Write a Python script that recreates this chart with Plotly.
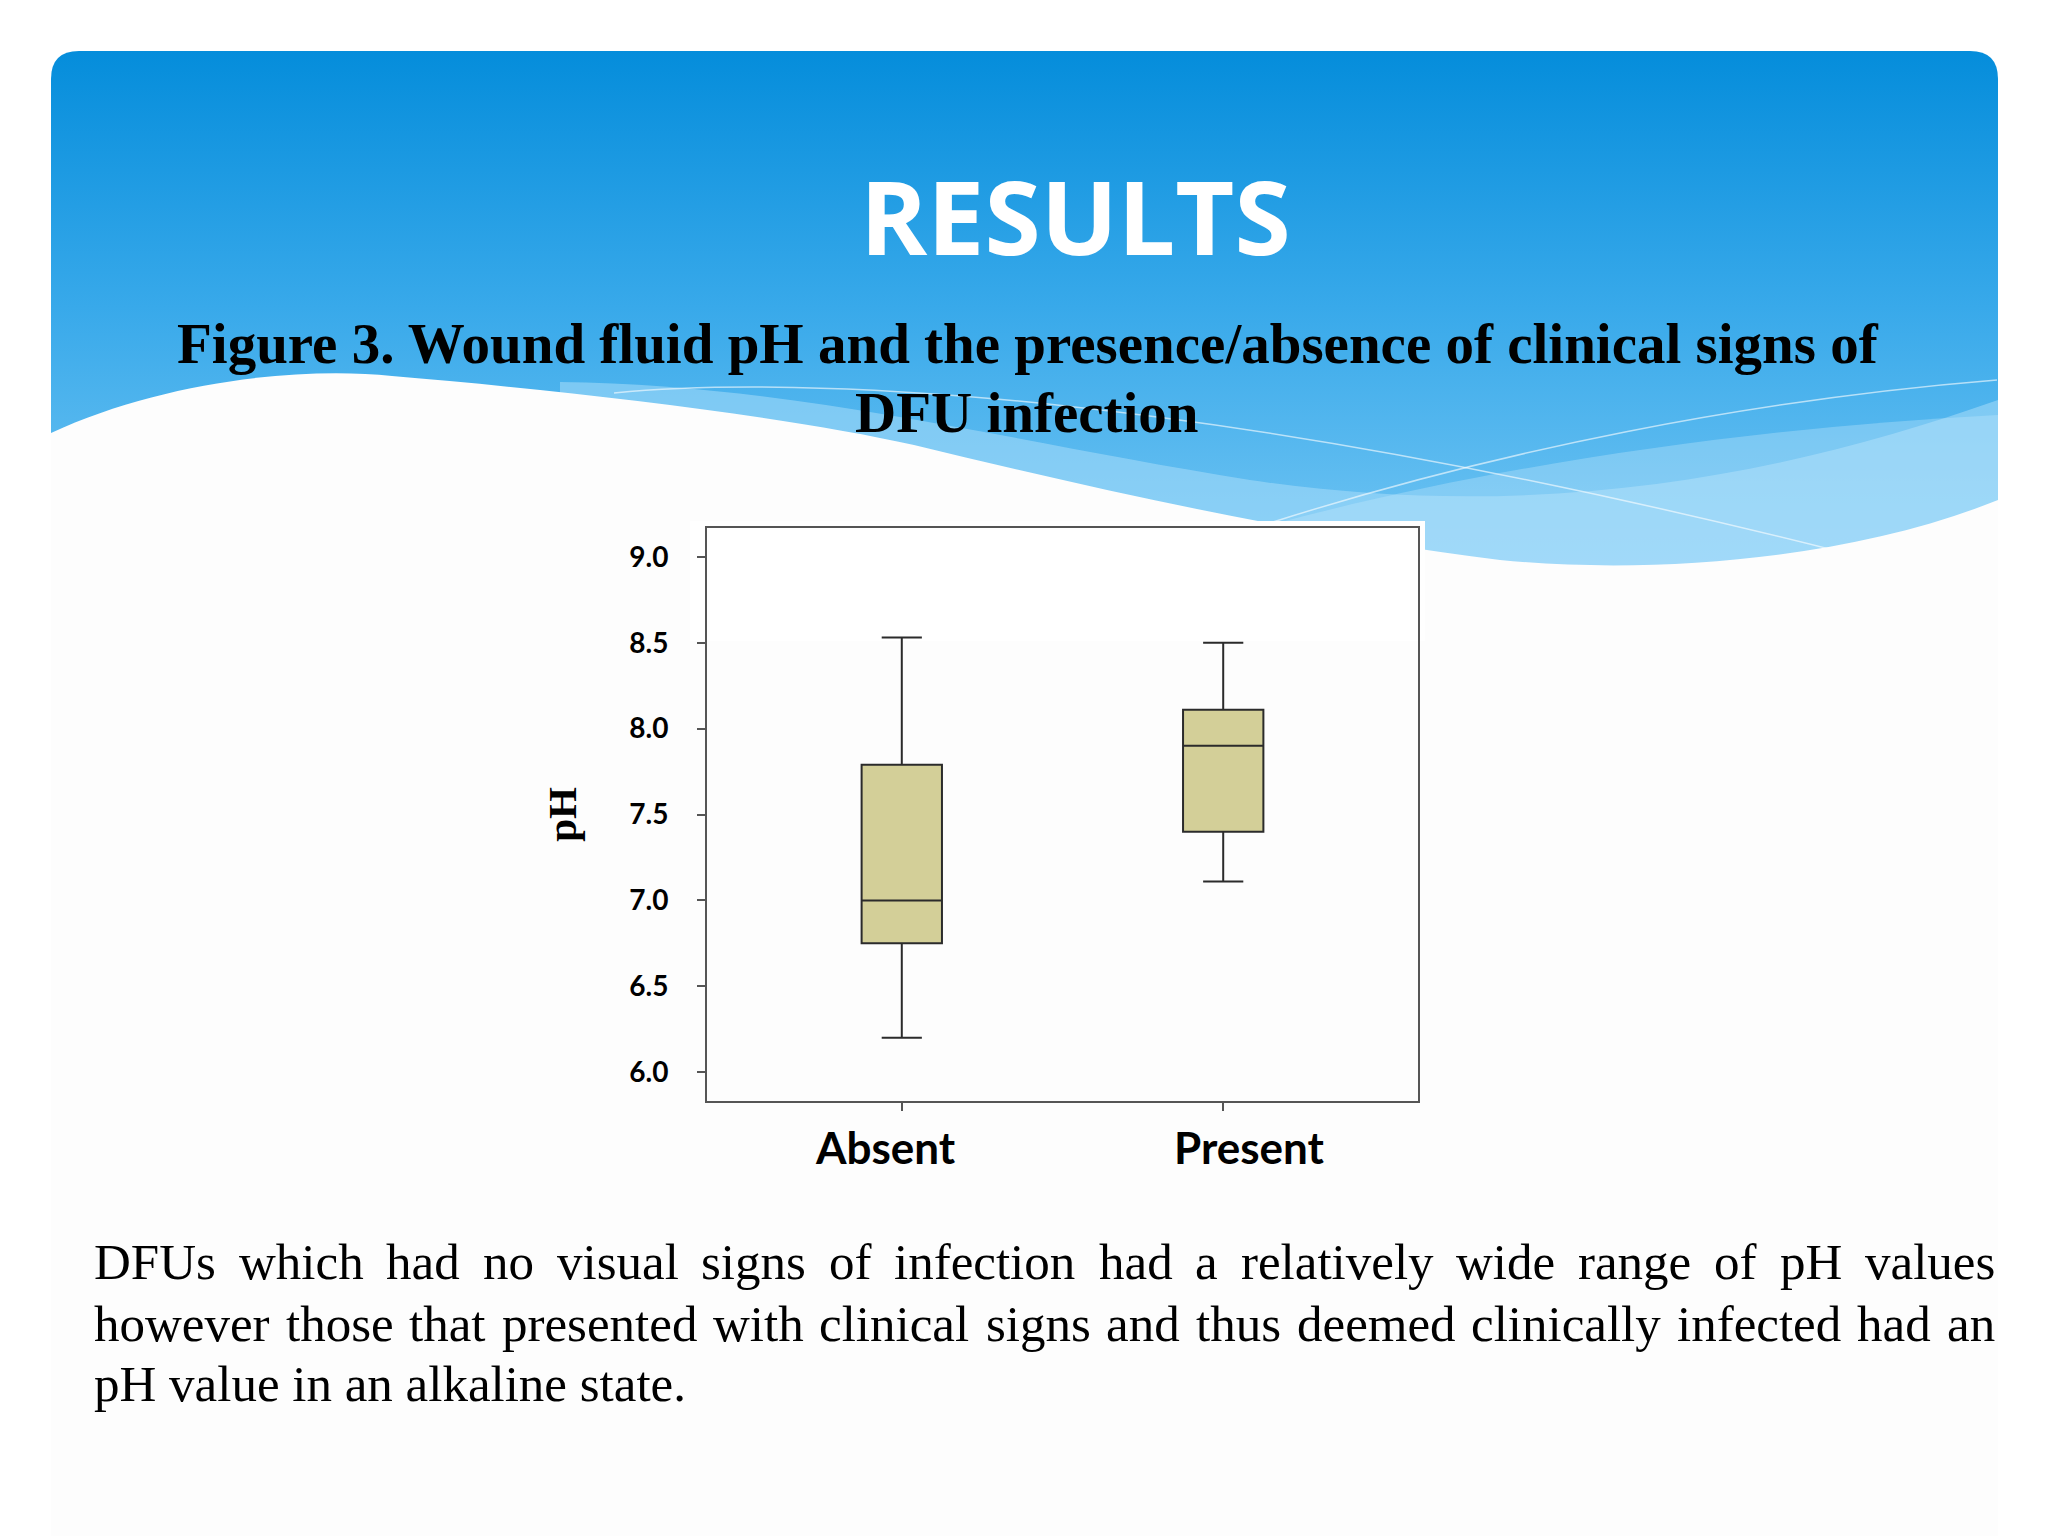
import base64
import plotly.graph_objects as go

# ---------------- data ----------------
categories = ["Absent", "Present"]
q1_vals = [6.75, 7.40]
median_vals = [7.00, 7.90]
q3_vals = [7.79, 8.11]
lower_whisker = [6.20, 7.11]
upper_whisker = [8.53, 8.50]
y_ticks = [6.0, 6.5, 7.0, 7.5, 8.0, 8.5, 9.0]

title_text = "RESULTS"
caption_lines = ["Figure 3. Wound fluid pH and the presence/absence of clinical signs of",
                 "DFU infection"]
body_lines = ["DFUs which had no visual signs of infection had a relatively wide range of pH values",
              "however those that presented with clinical signs and thus deemed clinically infected had an",
              "pH value in an alkaline state."]

# ---------------- geometry (page pixel coords) ----------------
W, H = 2048, 1536
OFF = 8  # page body margin
PL, PR, PT, PB = 707, 1418, 528, 1101
pw, ph = PR - PL, PB - PT


def px(x):
    return (x - PL) / pw


def py(y):
    return (PB - y) / ph


# ---------------- slide background (svg) ----------------
svg = f'''<svg xmlns="http://www.w3.org/2000/svg" width="{W}" height="{H}" viewBox="0 0 {W} {H}">
<defs><linearGradient id="g" x1="0" y1="0" x2="0" y2="1">
<stop offset="0" stop-color="#058ddb"/><stop offset="0.45" stop-color="#38a9ea"/><stop offset="1" stop-color="#7ecbf5"/>
</linearGradient></defs>
<rect width="{W}" height="{H}" fill="#ffffff"/>
<path d="M51,620 L51,79 Q51,51 79,51 L1970,51 Q1998,51 1998,79 L1998,620 Z" fill="url(#g)"/>
<path d="M560,382 C800,385 1000,440 1250,480 C1550,525 1800,470 1998,400 L1998,700 L560,700 Z" fill="#a8dcf9" opacity="0.55"/>
<path d="M1150,560 C1400,480 1700,430 1998,415 L1998,700 L1150,700 Z" fill="#c4e7fb" opacity="0.35"/>
<path d="M614,393 C800,375 1200,390 1841,552" fill="none" stroke="#ffffff" stroke-opacity="0.6" stroke-width="1.5"/>
<path d="M1273,522 C1500,450 1750,400 1997,380" fill="none" stroke="#ffffff" stroke-opacity="0.6" stroke-width="1.5"/>
<path d="M51,433 C160,382 300,366 392,376 C560,390 780,415 914,445 C1100,490 1300,535 1500,560 C1650,575 1850,560 1998,500 L1998,1536 L51,1536 Z" fill="#fdfdfd"/>
<rect x="690" y="521" width="735" height="120" fill="#ffffff"/>
</svg>'''
svg_uri = "data:image/svg+xml;base64," + base64.b64encode(svg.encode()).decode()

# ---------------- figure ----------------
fig = go.Figure()
fig.add_trace(go.Box(
    x=categories,
    q1=q1_vals, median=median_vals, q3=q3_vals,
    lowerfence=lower_whisker, upperfence=upper_whisker,
    width=0.25, whiskerwidth=0.5,
    fillcolor="#d3cf98",
    line=dict(color="#2b2b2b", width=2),
    boxpoints=False, hoverinfo="skip", showlegend=False,
))

fig.update_layout(
    width=W, height=H,
    margin=dict(l=PL - OFF, r=W - PR + OFF, t=PT - OFF, b=H - PB + OFF, pad=0),
    paper_bgcolor="#ffffff",
    plot_bgcolor="#efeef2",
    images=[dict(source=svg_uri, xref="paper", yref="paper",
                 x=px(0), y=py(0), sizex=W / pw, sizey=H / ph,
                 xanchor="left", yanchor="top", sizing="stretch", layer="below")],
    xaxis=dict(type="category", range=[-0.606, 1.606],
               showline=True, mirror=True, linecolor="#555555", linewidth=2,
               ticks="outside", ticklen=8, tickcolor="#555555", tickwidth=2,
               showgrid=False, zeroline=False, showticklabels=False),
    yaxis=dict(range=[5.832, 9.168], tickvals=y_ticks, tickformat=".1f",
               showline=True, mirror=True, linecolor="#555555", linewidth=2,
               ticks="outside", ticklen=8, tickcolor="#555555", tickwidth=2,
               showgrid=False, zeroline=False,
               tickfont=dict(family="Lato", size=28, color="#000000", weight="bold"),
               ticklabelstandoff=23,
               title=dict(text="pH", standoff=40,
                          font=dict(family="Liberation Serif", size=41, color="#000000", weight="bold"))),
)

ann = []
# category labels under the axis (slightly offset as in the reference)
label_shift = [-16, 26]
for c, s in zip(categories, label_shift):
    ann.append(dict(text=c, x=c, xref="x", y=py(1147), yref="paper", xshift=s,
                    xanchor="center", yanchor="middle", showarrow=False,
                    font=dict(family="Lato", size=44, color="#000000", weight="bold")))

ann.append(dict(text=title_text, x=px(1075), y=py(215), xref="paper", yref="paper",
                xanchor="center", yanchor="middle", showarrow=False,
                font=dict(family="Open Sans", size=102, color="#ffffff", weight="bold")))
ann.append(dict(text=caption_lines[0], x=px(1028), y=py(343), xref="paper", yref="paper",
                xanchor="center", yanchor="middle", showarrow=False,
                font=dict(family="Liberation Serif", size=57, color="#000000", weight="bold")))
ann.append(dict(text=caption_lines[1], x=px(1027), y=py(413), xref="paper", yref="paper",
                xanchor="center", yanchor="middle", showarrow=False,
                font=dict(family="Liberation Serif", size=57, color="#000000", weight="bold")))

# justified body text (Times metrics, per 1000 em)
cw = dict(a=444, b=500, c=444, d=500, e=444, f=333, g=500, h=500, i=278, j=278, k=500,
          l=278, m=778, n=500, o=500, p=500, q=500, r=333, s=389, t=278, u=500, v=500,
          w=722, x=500, y=500, z=444, D=722, F=556, U=722, H=722)
cw["."] = 250
FS = 51
LEFT, RIGHT = 93, 1994
line_y = [1262, 1324, 1384]


def wwidth(w):
    return sum(cw.get(ch, 500) for ch in w) * FS / 1000.0


for li, line in enumerate(body_lines):
    if li < 2:
        words = line.split(" ")
        widths = [wwidth(w) for w in words]
        gap = (RIGHT - LEFT - sum(widths)) / (len(words) - 1)
        xc = LEFT
        for w, wd in zip(words, widths):
            ann.append(dict(text=w, x=px(xc), y=py(line_y[li]), xref="paper", yref="paper",
                            xanchor="left", yanchor="middle", showarrow=False, borderpad=0,
                            font=dict(family="Liberation Serif", size=FS, color="#000000")))
            xc += wd + gap
    else:
        ann.append(dict(text=line, x=px(LEFT), y=py(line_y[li]), xref="paper", yref="paper",
                        xanchor="left", yanchor="middle", showarrow=False, borderpad=0,
                        font=dict(family="Liberation Serif", size=FS, color="#000000")))

fig.update_layout(annotations=ann)
fig.write_html("out.html")
